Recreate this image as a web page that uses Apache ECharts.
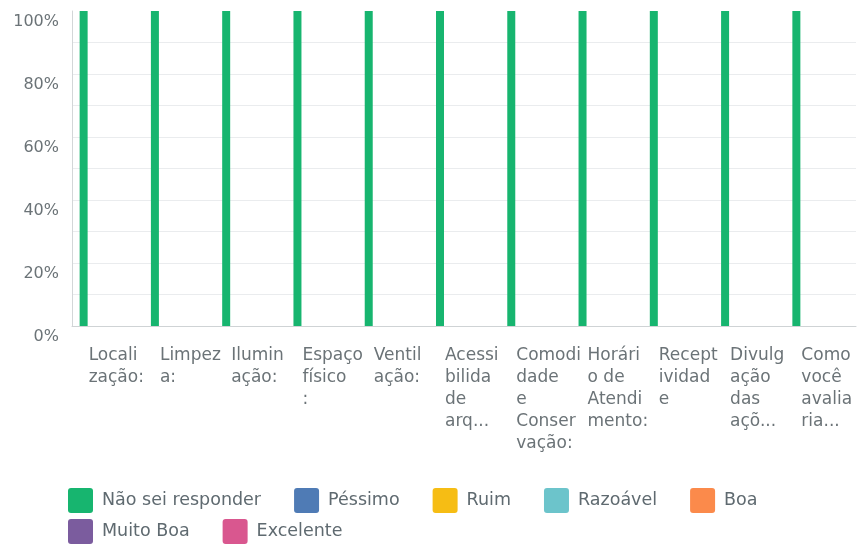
<!DOCTYPE html>
<html>
<head>
<meta charset="utf-8">
<script src="https://cdn.jsdelivr.net/npm/echarts@6/dist/echarts.min.js"></script>
<style>
html,body{margin:0;padding:0;background:#fff;}
#chart{width:857px;height:545px;}
</style>
</head>
<body>
<div id="chart"></div>
<script>
const categories = ['Locali\nzação:', 'Limpez\na:', 'Ilumin\nação:', 'Espaço\nfísico\n:', 'Ventil\nação:', 'Acessi\nbilida\nde\narq...', 'Comodi\ndade\ne\nConser\nvação:', 'Horári\no de\nAtendi\nmento:', 'Recept\nividad\ne', 'Divulg\nação\ndas\naçõ...', 'Como\nvocê\navalia\nria...'];
const seriesNames = ['Não sei responder', 'Péssimo', 'Ruim', 'Razoável', 'Boa', 'Muito Boa', 'Excelente'];
const seriesColors = ['#17b56f', '#4f7bb5', '#f6bd14', '#6cc4cb', '#fb8a4b', '#7b5c9e', '#d9578f'];
const naoSeiResponder = [100, 100, 100, 100, 100, 100, 100, 100, 100, 100, 100];
const pessimo = [0, 0, 0, 0, 0, 0, 0, 0, 0, 0, 0];
const ruim = [0, 0, 0, 0, 0, 0, 0, 0, 0, 0, 0];
const razoavel = [0, 0, 0, 0, 0, 0, 0, 0, 0, 0, 0];
const boa = [0, 0, 0, 0, 0, 0, 0, 0, 0, 0, 0];
const muitoBoa = [0, 0, 0, 0, 0, 0, 0, 0, 0, 0, 0];
const excelente = [0, 0, 0, 0, 0, 0, 0, 0, 0, 0, 0];
const seriesValues = [naoSeiResponder, pessimo, ruim, razoavel, boa, muitoBoa, excelente];

const FONT = 'DejaVu Sans';
const iconPath = 'path://M3,0 H22 A3,3 0 0 1 25,3 V22 A3,3 0 0 1 22,25 H3 A3,3 0 0 1 0,22 V3 A3,3 0 0 1 3,0 Z';
const legendCommon = {
  orient: 'horizontal',
  padding: 0,
  itemWidth: 25,
  itemHeight: 25,
  itemGap: 33,
  icon: iconPath,
  textStyle: { fontFamily: FONT, fontSize: 17.5, color: '#5f6a70', padding: [0, 0, 0, 4] }
};

const chart = echarts.init(document.getElementById('chart'));
chart.setOption({
  animation: false,
  backgroundColor: '#ffffff',
  textStyle: { fontFamily: FONT },
  grid: { left: 72, right: 1, top: 11, bottom: 219, containLabel: false },
  legend: [
    Object.assign({ left: 68, top: 488, data: seriesNames.slice(0, 5) }, legendCommon),
    Object.assign({ left: 68, top: 519, data: seriesNames.slice(5) }, legendCommon)
  ],
  xAxis: {
    type: 'category',
    data: categories,
    axisLine: { show: true, lineStyle: { color: '#cfd3d5', width: 1 } },
    axisTick: { show: false },
    axisLabel: {
      interval: 0,
      margin: 19,
      align: 'left',
      padding: [0, 0, 0, -19],
      fontFamily: FONT,
      fontSize: 17,
      lineHeight: 22,
      color: '#6b7377'
    },
    splitLine: { show: false }
  },
  yAxis: {
    type: 'value',
    min: 0,
    max: 100,
    interval: 10,
    axisLine: { show: true, lineStyle: { color: '#d3d6d8', width: 1 } },
    axisTick: { show: false },
    axisLabel: {
      margin: 13,
      verticalAlign: 'top',
      padding: [3, 0, 0, 0],
      fontFamily: FONT,
      fontSize: 16,
      color: '#6b7377',
      formatter: function (v) { return v % 20 === 0 ? v + '%' : ''; }
    },
    splitLine: { show: true, showMaxLine: false, lineStyle: { color: '#eaecee', width: 1 } }
  },
  series: seriesNames.map(function (name, i) {
    return {
      name: name,
      type: 'bar',
      data: seriesValues[i],
      barWidth: 8,
      barGap: '0%',
      itemStyle: { color: seriesColors[i] }
    };
  })
});
</script>
</body>
</html>
